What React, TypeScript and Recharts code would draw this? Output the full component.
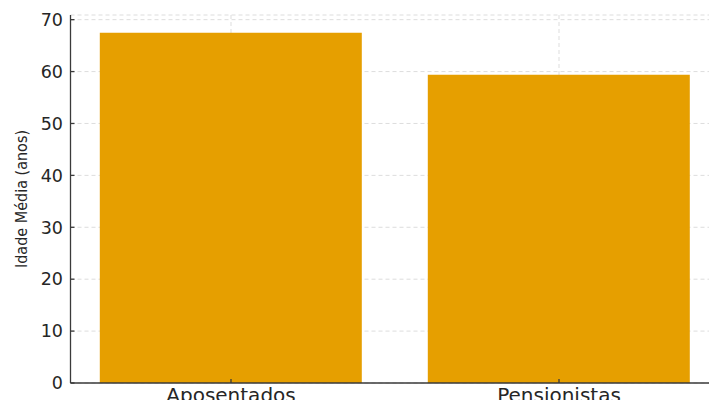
import { BarChart, Bar, XAxis, YAxis, CartesianGrid } from "recharts";

const categories = ["Aposentados", "Pensionistas"];
const idadeMedia = [67.5, 59.4];
const yTicks = [0, 10, 20, 30, 40, 50, 60, 70];

const data = categories.map((name, i) => ({ name, idade: idadeMedia[i] }));

const AXIS = "#3a3a3a";
const TEXT = "#262626";

// rotated y label, centred on the axis box
const YLabel = (props: any) => {
  const vb = props.viewBox || {};
  const cx = vb.x + 21;
  const cy = vb.y + vb.height / 2;
  return (
    <text
      x={cx}
      y={cy}
      transform={`rotate(-90, ${cx}, ${cy})`}
      textAnchor="middle"
      dominantBaseline="central"
      fill={TEXT}
      style={{ fontFamily: "'DejaVu Sans Condensed', 'Liberation Sans Narrow', sans-serif", fontSize: 16 }}
    >
      Idade Média (anos)
    </text>
  );
};

export default function App() {
  return (
    <div
      style={{
        position: "absolute",
        top: 0,
        left: 0,
        width: 709,
        height: 400,
        overflow: "hidden",
        background: "#fff",
      }}
    >
      <BarChart
        width={723}
        height={400}
        data={data}
        margin={{ top: 15, right: 0, bottom: 0, left: 0 }}
        barCategoryGap="10%"
      >
        <CartesianGrid stroke="#d4d4d4" strokeDasharray="4 3" strokeWidth={0.8} />
        <XAxis
          dataKey="name"
          height={17}
          padding={{ left: -3.5, right: 0 }}
          stroke={AXIS}
          strokeWidth={1.3}
          tickSize={-4}
          tickMargin={9}
          tick={{ fill: TEXT, fontSize: 20, fontFamily: "'DejaVu Sans', sans-serif" }}
        />
        <YAxis
          width={70.5}
          domain={[0, 70.9]}
          ticks={yTicks}
          allowDataOverflow
          stroke={AXIS}
          strokeWidth={1.3}
          tickSize={-4}
          tickMargin={11.5}
          tick={{ fill: TEXT, fontSize: 17.5, fontFamily: "'DejaVu Sans', sans-serif" }}
          label={<YLabel />}
        />
        <Bar dataKey="idade" fill="#E69F00" isAnimationActive={false} />
      </BarChart>
    </div>
  );
}
